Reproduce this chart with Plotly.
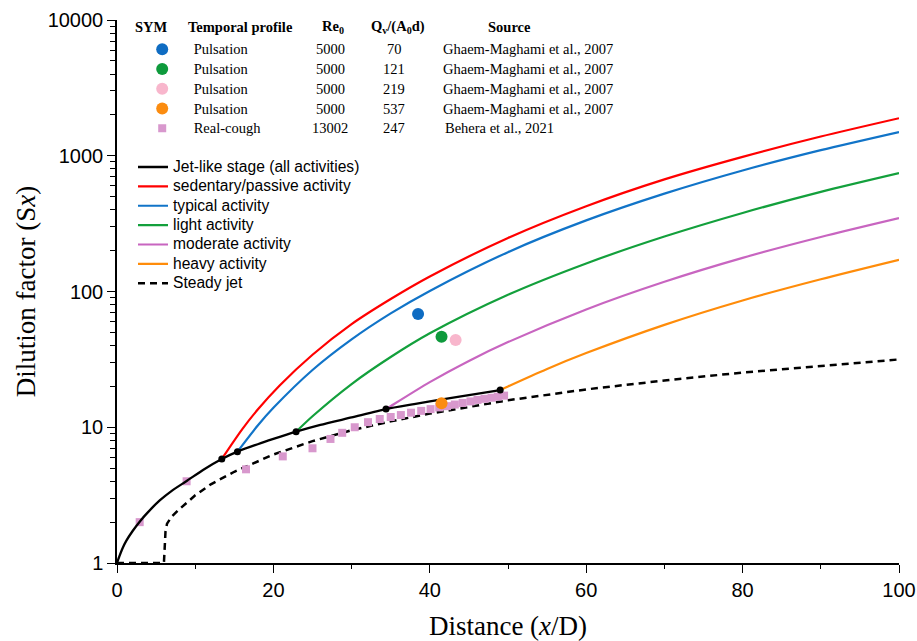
import plotly.graph_objects as go

# ---------------- data ----------------
jet_x = [0, 0.3, 0.7, 1.2, 2, 3, 4, 5.5, 7, 9, 11, 13.4, 15.4, 18, 20, 22.9, 26, 30, 34.4, 38, 42, 46, 49]
jet_y = [1, 1.12, 1.28, 1.46, 1.72, 2.05, 2.38, 2.9, 3.4, 4.05, 4.85, 5.84, 6.61, 7.5, 8.2, 9.27, 10.4, 11.8, 13.6, 14.8, 16.2, 17.6, 18.8]

trans_x = [13.4, 15.4, 22.9, 34.4, 49]
trans_y = [5.84, 6.61, 9.27, 13.6, 18.8]

red_x = [13.4, 16, 18, 20.8, 25, 30, 35, 40, 50, 60, 70, 80, 90, 100]
red_y = [5.84, 9.65, 13.5, 20.3, 34.2, 57.5, 88, 129, 248, 425, 670, 982, 1385, 1890]

blue_x = [15.4, 18, 20, 25, 30, 35, 40, 50, 60, 70, 80, 90, 100]
blue_y = [6.61, 10.3, 13.9, 26.4, 44.4, 69, 101, 195, 334, 526, 779, 1099, 1495]

green_x = [22.9, 25, 30, 35, 40, 50, 60, 70, 80, 90, 100]
green_y = [9.27, 12.05, 20.8, 32.9, 49.2, 94.6, 161, 254, 379, 542, 745]

mag_x = [34.4, 35, 40, 45, 50, 60, 70, 80, 90, 100]
mag_y = [13.6, 14.3, 21.5, 30.8, 42.4, 73.8, 118, 177, 252, 347]

orange_x = [49, 50, 55, 60, 70, 80, 90, 100]
orange_y = [18.8, 20.0, 26.9, 35.2, 56.8, 85.9, 123, 171]

steady_x = [0, 6.0, 6.1, 6.2, 6.4, 7, 8, 10, 12, 15, 20, 25, 30, 35, 40, 45, 50, 60, 70, 80, 90, 100]
steady_y = [1, 1, 1.3, 1.7, 1.95, 2.2, 2.5, 3.15, 3.8, 4.7, 6.3, 7.9, 9.5, 11.05, 12.6, 14.2, 15.8, 19.0, 22.1, 25.3, 28.4, 31.6]

pulse_x = [38.5, 41.5, 43.3, 41.5]
pulse_y = [68.3, 46.5, 44.0, 15.0]
pulse_colors = ["#0f6cc2", "#0e9a3c", "#f8b6cc", "#fb8c10"]

cough_x = [2.9, 8.9, 16.5, 21.2, 25.0, 27.3, 28.8, 30.4, 32.1, 33.6, 35.0, 36.3, 37.6, 38.9,
           40.1, 41.2, 42.2, 43.2, 44.2, 45.2, 46.1, 47.0, 47.9, 48.7, 49.5]
cough_y = [2.0, 4.0, 4.9, 6.1, 7.0, 8.2, 9.1, 10.0, 10.9, 11.5, 11.9, 12.3, 12.8, 13.2,
           13.6, 14.0, 14.3, 14.7, 15.1, 15.5, 15.9, 16.2, 16.5, 16.8, 17.1]

# table content
tab_profile = ["Pulsation", "Pulsation", "Pulsation", "Pulsation", "Real-cough"]
tab_re0 = ["5000", "5000", "5000", "5000", "13002"]
tab_qv = ["70", "121", "219", "537", "247"]
tab_source = ["Ghaem-Maghami et al., 2007"] * 4 + ["Behera et al., 2021"]

line_names = ["Jet-like stage (all activities)", "sedentary/passive activity", "typical activity",
              "light activity", "moderate activity", "heavy activity", "Steady jet"]

x_ticks = [0, 20, 40, 60, 80, 100]
y_ticks = [1, 10, 100, 1000, 10000]
y_ticktext = ["1", "10", "100", "1000", "10000"]

# ---------------- figure ----------------
SERIF = "Liberation Serif, Times New Roman, serif"
SANS = "Liberation Sans, Arial, sans-serif"

def lname(s, px=15.6):
    return '<span style="font-size:%.1fpx">' % px + s + '</span>'

fig = go.Figure()

curves = [
    (red_x, red_y, "#ff0000", line_names[1], 2),
    (blue_x, blue_y, "#1174c8", line_names[2], 3),
    (green_x, green_y, "#13a03c", line_names[3], 4),
    (mag_x, mag_y, "#c865c0", line_names[4], 5),
    (orange_x, orange_y, "#ff8c0a", line_names[5], 6),
]
for cx, cy, col, nm, rk in curves:
    fig.add_trace(go.Scatter(x=cx, y=cy, mode="lines", name=lname(nm), legend="legend",
                             legendrank=rk, line=dict(color=col, width=2.2, shape="spline", smoothing=0.8)))

fig.add_trace(go.Scatter(x=steady_x, y=steady_y, mode="lines", name=lname(line_names[6]), legend="legend",
                         legendrank=7, line=dict(color="black", width=2.5, dash="7px,5px")))

fig.add_trace(go.Scatter(x=cough_x, y=cough_y, mode="markers", name=lname(tab_profile[4], 14.5),
                         legend="legend2", legendrank=5,
                         marker=dict(color="#d898cd", size=8, symbol="square", line=dict(width=0))))

fig.add_trace(go.Scatter(x=jet_x, y=jet_y, mode="lines", name=lname(line_names[0]), legend="legend",
                         legendrank=1, line=dict(color="black", width=2.3, shape="spline", smoothing=0.6)))
fig.add_trace(go.Scatter(x=trans_x, y=trans_y, mode="markers", showlegend=False,
                         marker=dict(color="black", size=7)))

for i in range(4):
    fig.add_trace(go.Scatter(x=[pulse_x[i]], y=[pulse_y[i]], mode="markers",
                             name=lname(tab_profile[i], 14.5), legend="legend2", legendrank=i + 1,
                             marker=dict(color=pulse_colors[i], size=12, line=dict(width=0))))

# ---------------- table annotations ----------------
def px_x(p):
    return (p - 117) / 782.0

def px_y(p):
    return (563 - p) / 543.0

ann = []
hdr_y = px_y(26.7)
hdr = [("SYM", 151), ("Temporal profile", 240), ("Re<sub>0</sub>", 333),
       ("Q<sub>v</sub>/(A<sub>0</sub>d)", 398), ("Source", 509)]
for t, xp in hdr:
    ann.append(dict(text="<b>" + t + "</b>", x=px_x(xp), y=hdr_y, xref="paper", yref="paper",
                    xanchor="center", yanchor="middle", showarrow=False,
                    font=dict(family=SERIF, size=14.5, color="black")))
for i in range(5):
    ry = px_y(49.3 + 19.75 * i)
    ann.append(dict(text=tab_re0[i], x=px_x(330), y=ry, xref="paper", yref="paper",
                    xanchor="center", yanchor="middle", showarrow=False,
                    font=dict(family=SERIF, size=14.5, color="black")))
    ann.append(dict(text=tab_qv[i], x=px_x(394), y=ry, xref="paper", yref="paper",
                    xanchor="center", yanchor="middle", showarrow=False,
                    font=dict(family=SERIF, size=14.5, color="black")))
    ann.append(dict(text=tab_source[i], x=px_x(441 if i < 4 else 443), y=ry, xref="paper", yref="paper",
                    xanchor="left", yanchor="middle", showarrow=False,
                    font=dict(family=SERIF, size=14.5, color="black")))

minor_y = [d * 10 ** k for k in range(4) for d in range(2, 10)]

fig.update_layout(
    width=917, height=641,
    margin=dict(l=117, r=18, t=20, b=78),
    plot_bgcolor="white", paper_bgcolor="white",
    showlegend=True,
    legend=dict(x=px_x(133), y=px_y(152.3), xanchor="left", yanchor="top",
                font=dict(family=SANS, size=12.6, color="black"),
                bgcolor="rgba(0,0,0,0)", borderwidth=0, tracegroupgap=0),
    legend2=dict(x=px_x(130.7), y=px_y(34.4), xanchor="left", yanchor="top",
                 font=dict(family=SERIF, size=12.9, color="black"), itemwidth=53,
                 bgcolor="rgba(0,0,0,0)", borderwidth=0, tracegroupgap=0),
    annotations=ann,
    xaxis=dict(range=[0, 100], tickvals=x_ticks, ticks="outside", ticklen=8, tickwidth=1.3,
               tickcolor="black", showline=True, linecolor="black", linewidth=1.5,
               showgrid=False, zeroline=False, automargin=False,
               minor=dict(ticks="outside", ticklen=4, tickwidth=1.3, tickcolor="black", dtick=10, tick0=0),
               tickfont=dict(family=SANS, size=20, color="black"),
               title=dict(text="Distance (<i>x</i>/D)", font=dict(family=SERIF, size=27, color="black"),
                          standoff=17)),
    yaxis=dict(type="log", range=[0, 4], tickvals=y_ticks, ticktext=y_ticktext, ticks="outside",
               ticklen=8, tickwidth=1.3, tickcolor="black", showline=True, linecolor="black",
               linewidth=1.5, showgrid=False, zeroline=False, automargin=False,
               minor=dict(ticks="outside", ticklen=5, tickwidth=1.3, tickcolor="black", tickvals=minor_y),
               tickfont=dict(family=SANS, size=20, color="black"),
               title=dict(text="Dilution factor (S<i>x</i>)", font=dict(family=SERIF, size=27, color="black"),
                          standoff=4)),
)

fig.write_html("out.html")
